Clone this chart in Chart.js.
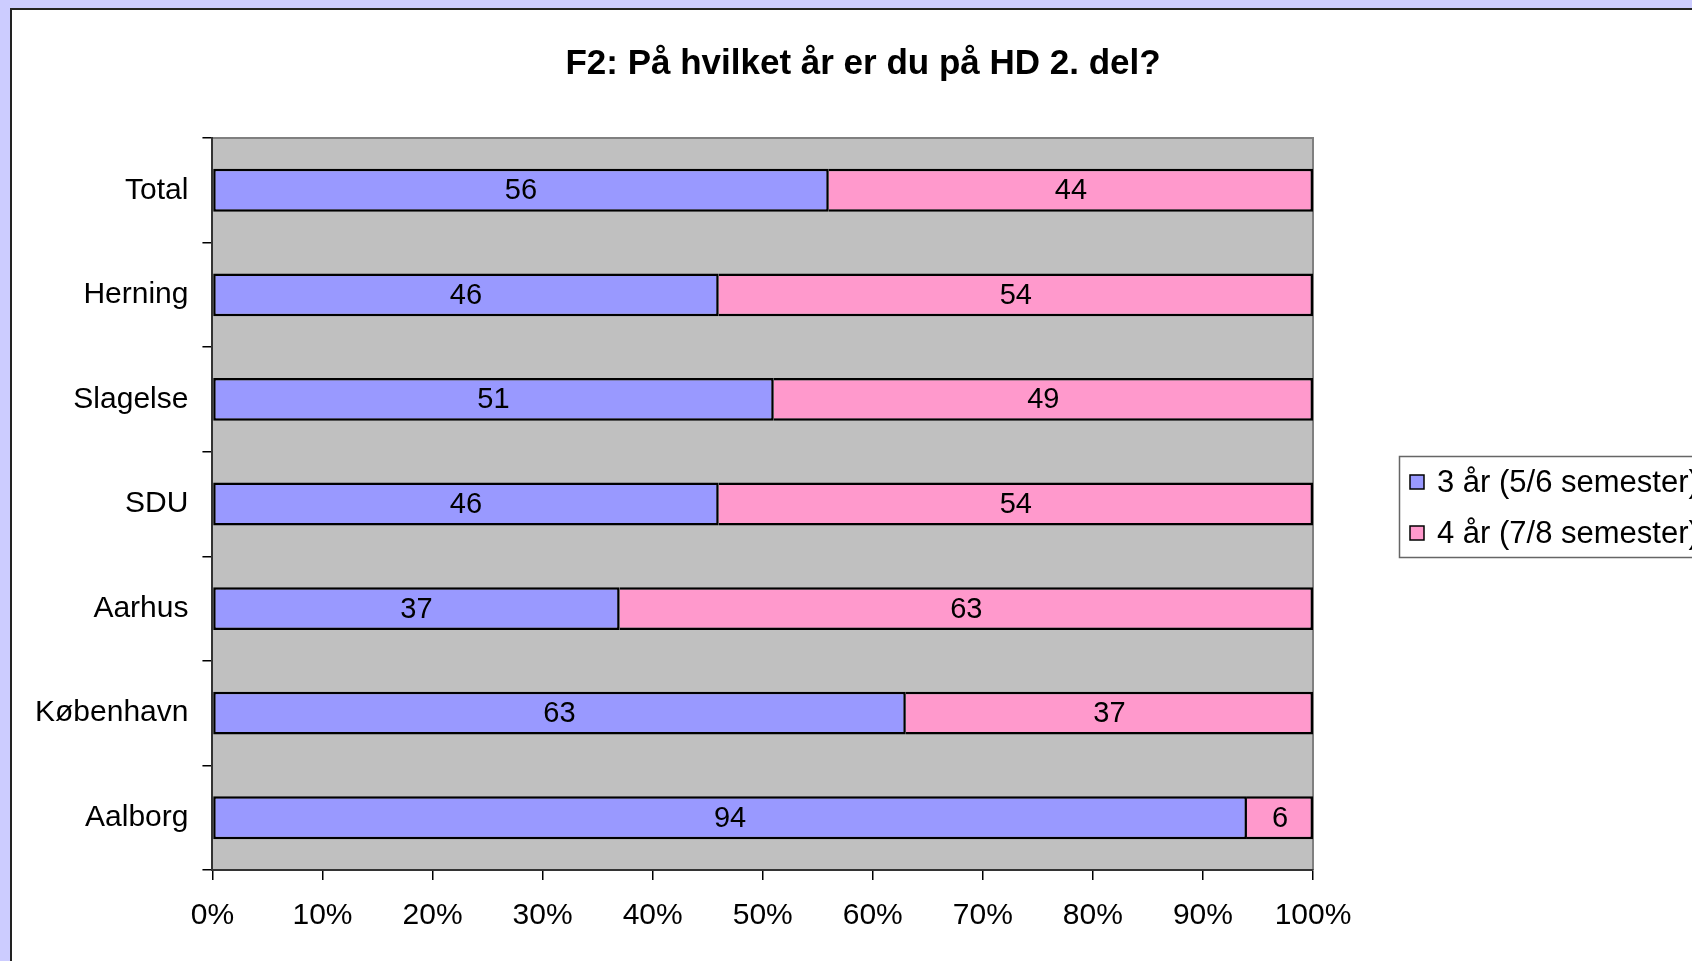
<!DOCTYPE html>
<html>
<head>
<meta charset="utf-8">
<title>F2: På hvilket år er du på HD 2. del?</title>
<script src="https://cdn.jsdelivr.net/npm/chart.js@4.4.0/dist/chart.umd.min.js"></script>
<style>
  html, body {
    margin: 0;
    padding: 0;
    width: 1692px;
    height: 961px;
    overflow: hidden;
    background: #ccccff;
  }
  #frame {
    position: absolute;
    left: 10px;
    top: 8px;
    width: 1702px;
    height: 980px;
    background: #ffffff;
    border-left: 2px solid #222;
    border-top: 2px solid #222;
  }
  #chart {
    display: block;
  }
</style>
</head>
<body>
<div id="frame">
  <canvas id="chart" width="1702" height="951"></canvas>
</div>
<script>
// Categories and series (percent of students per location)
const sites = ["Total", "Herning", "Slagelse", "SDU", "Aarhus", "København", "Aalborg"];
const threeYears = [56, 46, 51, 46, 37, 63, 94];
const fourYears = [44, 54, 49, 54, 63, 37, 6];
const seriesNames = ["3 år (5/6 semester)", "4 år (7/8 semester)"];
const xTicks = [0, 10, 20, 30, 40, 50, 60, 70, 80, 90, 100];

const blue = "#9999ff";
const pink = "#ff99cc";
const fontFamily = "'Liberation Sans', Arial, Helvetica, sans-serif";

Chart.defaults.font.family = fontFamily;
Chart.defaults.color = "#000";

// grey plot area with a thin darker frame on top and right
const plotBackground = {
  id: "plotBackground",
  beforeDraw(chart) {
    const {ctx, chartArea: a} = chart;
    ctx.save();
    ctx.fillStyle = "#c0c0c0";
    ctx.fillRect(a.left, a.top, a.right - a.left, a.bottom - a.top);
    ctx.strokeStyle = "#808080";
    ctx.lineWidth = 2;
    ctx.beginPath();
    ctx.moveTo(a.left, a.top);
    ctx.lineTo(a.right, a.top);
    ctx.lineTo(a.right, a.bottom);
    ctx.stroke();
    ctx.restore();
  }
};

// value in the middle of every segment
const segmentLabels = {
  id: "segmentLabels",
  afterDatasetsDraw(chart) {
    const ctx = chart.ctx;
    ctx.save();
    ctx.font = "29px " + fontFamily;
    ctx.fillStyle = "#000";
    ctx.textAlign = "center";
    ctx.textBaseline = "middle";
    chart.data.datasets.forEach((ds, di) => {
      const meta = chart.getDatasetMeta(di);
      meta.data.forEach((bar, i) => {
        const x = (bar.x + bar.base) / 2;
        ctx.fillText(String(ds.data[i]), x, bar.y + 1);
      });
    });
    ctx.restore();
  }
};

// boxed legend to the right of the plot
const boxedLegend = {
  id: "boxedLegend",
  afterDraw(chart) {
    const ctx = chart.ctx;
    const left = 1387, top = 446, width = 312, height = 101;
    ctx.save();
    ctx.fillStyle = "#fff";
    ctx.fillRect(left, top, width, height);
    ctx.strokeStyle = "#666";
    ctx.lineWidth = 1.5;
    ctx.strokeRect(left + 0.5, top + 0.5, width, height);
    ctx.font = "31px " + fontFamily;
    ctx.textBaseline = "middle";
    chart.data.datasets.forEach((ds, i) => {
      const cy = top + 26 + i * 51;
      ctx.fillStyle = ds.backgroundColor;
      ctx.fillRect(left + 11, cy - 7, 14, 14);
      ctx.strokeStyle = "#000";
      ctx.lineWidth = 1.5;
      ctx.strokeRect(left + 11, cy - 7, 14, 14);
      ctx.fillStyle = "#000";
      ctx.fillText(ds.label, left + 38, cy + 1);
    });
    ctx.restore();
  }
};

const chartData = {
  labels: sites,
  datasets: [
    {
      label: seriesNames[0],
      data: threeYears,
      backgroundColor: blue,
      borderColor: "#000",
      borderWidth: 2.5,
      borderSkipped: false
    },
    {
      label: seriesNames[1],
      data: fourYears,
      backgroundColor: pink,
      borderColor: "#000",
      borderWidth: 2.5,
      borderSkipped: "start"
    }
  ]
};

const chartOptions = {
  indexAxis: "y",
  responsive: false,
  animation: false,
  devicePixelRatio: 1,
  layout: {
    padding: {left: 9, right: 9, top: 0, bottom: 9}
  },
  datasets: {
    bar: {barPercentage: 0.41, categoryPercentage: 1}
  },
  scales: {
    x: {
      stacked: true,
      min: 0,
      max: 100,
      afterBuildTicks: (axis) => {
        axis.ticks = xTicks.map((v) => ({value: v}));
      },
      ticks: {
        callback: (v) => v + "%",
        font: {size: 30},
        padding: 18,
        maxRotation: 0
      },
      grid: {
        drawOnChartArea: false,
        drawTicks: true,
        tickLength: 10,
        color: "#000",
        lineWidth: 1.5
      },
      border: {display: true, color: "#333", width: 2}
    },
    y: {
      stacked: true,
      offset: true,
      ticks: {
        font: {size: 30},
        padding: 14
      },
      grid: {
        offset: true,
        drawOnChartArea: false,
        drawTicks: true,
        tickLength: 10,
        color: "#000",
        lineWidth: 1.5
      },
      border: {display: true, color: "#333", width: 2}
    },
    // empty right-hand axis that reserves room for the legend box
    legendSpace: {
      type: "linear",
      axis: "y",
      position: "right",
      ticks: {display: false},
      grid: {display: false},
      border: {display: false},
      afterFit: (scale) => {
        scale.width = 392;
      }
    }
  },
  plugins: {
    legend: {display: false},
    tooltip: {enabled: false},
    title: {
      display: true,
      text: "F2: På hvilket år er du på HD 2. del?",
      color: "#000",
      font: {size: 35, weight: "bold"},
      padding: {top: 33, bottom: 53}
    }
  }
};

new Chart(document.getElementById("chart"), {
  type: "bar",
  data: chartData,
  options: chartOptions,
  plugins: [plotBackground, segmentLabels, boxedLegend]
});
</script>
</body>
</html>
